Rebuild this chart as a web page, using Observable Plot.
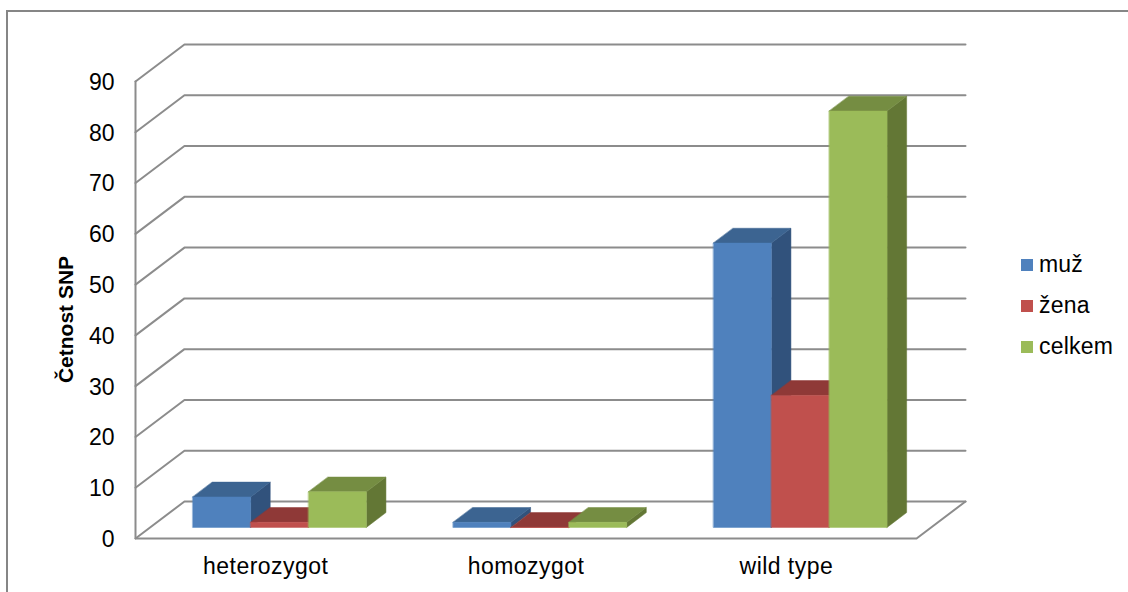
<!DOCTYPE html>
<html lang="cs">
<head>
<meta charset="utf-8">
<script src="https://cdn.jsdelivr.net/npm/d3@7"></script>
<script src="https://cdn.jsdelivr.net/npm/@observablehq/plot@0.6"></script>
<style>
  html, body { margin: 0; padding: 0; background: #fff; overflow: hidden; }
  #chart { position: relative; width: 1128px; height: 592px; font-family: "Liberation Sans", Arial, sans-serif; }
  #chart svg { display: block; }
  #frame { position: absolute; left: 6px; top: 10px; right: -4px; bottom: -4px; border: 2px solid #868686; box-sizing: border-box; }
  #legend { position: absolute; left: 1021px; top: 244px; font-size: 23px; letter-spacing: 0.2px; color: #000; }
  #legend div { display: flex; align-items: center; height: 41px; }
  #legend i { width: 12px; height: 12px; margin-right: 6px; display: block; }
</style>
</head>
<body>
<div id="chart"><div id="frame"></div><div id="legend"></div></div>
<script>
// Genotype counts per sex
const categories = ["heterozygot", "homozygot", "wild type"];
const muz = [6, 1, 56];
const zena = [1, 0, 26];
const celkem = [7, 1, 82];
const yTicks = [0, 10, 20, 30, 40, 50, 60, 70, 80, 90];

const seriesNames = ["muž", "žena", "celkem"];
const seriesValues = [muz, zena, celkem];
const frontColors = ["#4f81bd", "#c0504d", "#9bbb59"];
const topColors = ["#3c6491", "#8f3937", "#758d42"];
const sideColors = ["#31527c", "#8f3937", "#637735"];

// Oblique projection of the floor: depth 0 is the front edge, depth 1 the back wall
const depthX = 0.188;   // in category units
const depthY = 7.29;    // in value units
const nearDepth = 0.3;
const farDepth = 0.7;
const barWidth = 1 / 4.5;   // three bars plus a 150 % gap per category
const barOffset = -0.003;   // small sideways nudge of each bar group
const project = (cat, value, depth) => ({x: cat + depth * depthX, y: value + depth * depthY});

// Wall and floor lines
const gridLines = yTicks.flatMap((v) => [
  {id: `g${v}`, ...project(0, v, 0)},
  {id: `g${v}`, ...project(0, v, 1)},
  {id: `g${v}`, ...project(categories.length, v, 1)}
]);
const frontLines = [
  {id: "wall", ...project(0, 90, 0)},
  {id: "wall", ...project(0, 0, 0)},
  {id: "wall", ...project(categories.length, 0, 0)},
  {id: "wall", ...project(categories.length, 0, 1)}
];

// Each bar is three faces, painted left to right so nearer faces cover earlier ones
const faces = categories.flatMap((_, c) =>
  seriesValues.flatMap((values, s) => {
    const v = values[c];
    const x0 = c + 0.5 + barOffset - 1.5 * barWidth + s * barWidth;
    const x1 = x0 + barWidth;
    const face = (name, color, corners) =>
      corners.map(([cx, cv, cd]) => ({id: `${c}-${s}-${name}`, color, ...project(cx, cv, cd)}));
    return [
      ...face("side", sideColors[s], [[x1, 0, nearDepth], [x1, 0, farDepth], [x1, v, farDepth], [x1, v, nearDepth]]),
      ...face("top", topColors[s], [[x0, v, nearDepth], [x1, v, nearDepth], [x1, v, farDepth], [x0, v, farDepth]]),
      ...face("front", frontColors[s], [[x0, 0, nearDepth], [x1, 0, nearDepth], [x1, v, nearDepth], [x0, v, nearDepth]])
    ];
  })
);

const plot = Plot.plot({
  width: 1128,
  height: 592,
  marginLeft: 135,
  marginRight: 163,
  marginTop: 44,
  marginBottom: 54,
  style: {fontFamily: '"Liberation Sans", Arial, sans-serif', color: "#000", background: "transparent"},
  x: {type: "linear", domain: [0, categories.length + depthX]},
  y: {type: "linear", domain: [0, 90 + depthY]},
  color: {type: "identity"},
  marks: [
    Plot.axisY({ticks: yTicks, tickSize: 0, tickPadding: 21, fontSize: 23, label: null, dy: 1, tickFormat: (d) => `${d}`}),
    Plot.axisX({
      ticks: categories.map((_, i) => i + 0.5),
      tickFormat: (d) => categories[Math.floor(d)],
      tickSize: 0, tickPadding: 19, fontSize: 23, label: null
    }),
    Plot.line(gridLines, {x: "x", y: "y", z: "id", stroke: "#8c8c8c", strokeWidth: 2}),
    Plot.line(frontLines, {x: "x", y: "y", z: "id", stroke: "#8c8c8c", strokeWidth: 2}),
    Plot.line(faces, {x: "x", y: "y", z: "id", fill: "color", stroke: "color", strokeWidth: 0.5, curve: "linear-closed"}),
    Plot.text(["Četnost SNP"], {
      frameAnchor: "left", textAnchor: "middle", rotate: -90, dx: -69, dy: 28,
      fontSize: 21, fontWeight: "bold", fill: "#000"
    })
  ]
});
document.getElementById("chart").prepend(plot);

// Category labels are set a little wider than the font's default spacing
d3.select(plot).selectAll("text")
  .filter(function () { return categories.includes(this.textContent); })
  .style("letter-spacing", "0.45px");

// Legend entries to the right of the plot
const legend = d3.select("#legend");
seriesNames.forEach((name, i) => {
  const row = legend.append("div");
  row.append("i").style("background", frontColors[i]);
  row.append("span").text(name);
});
</script>
</body>
</html>
